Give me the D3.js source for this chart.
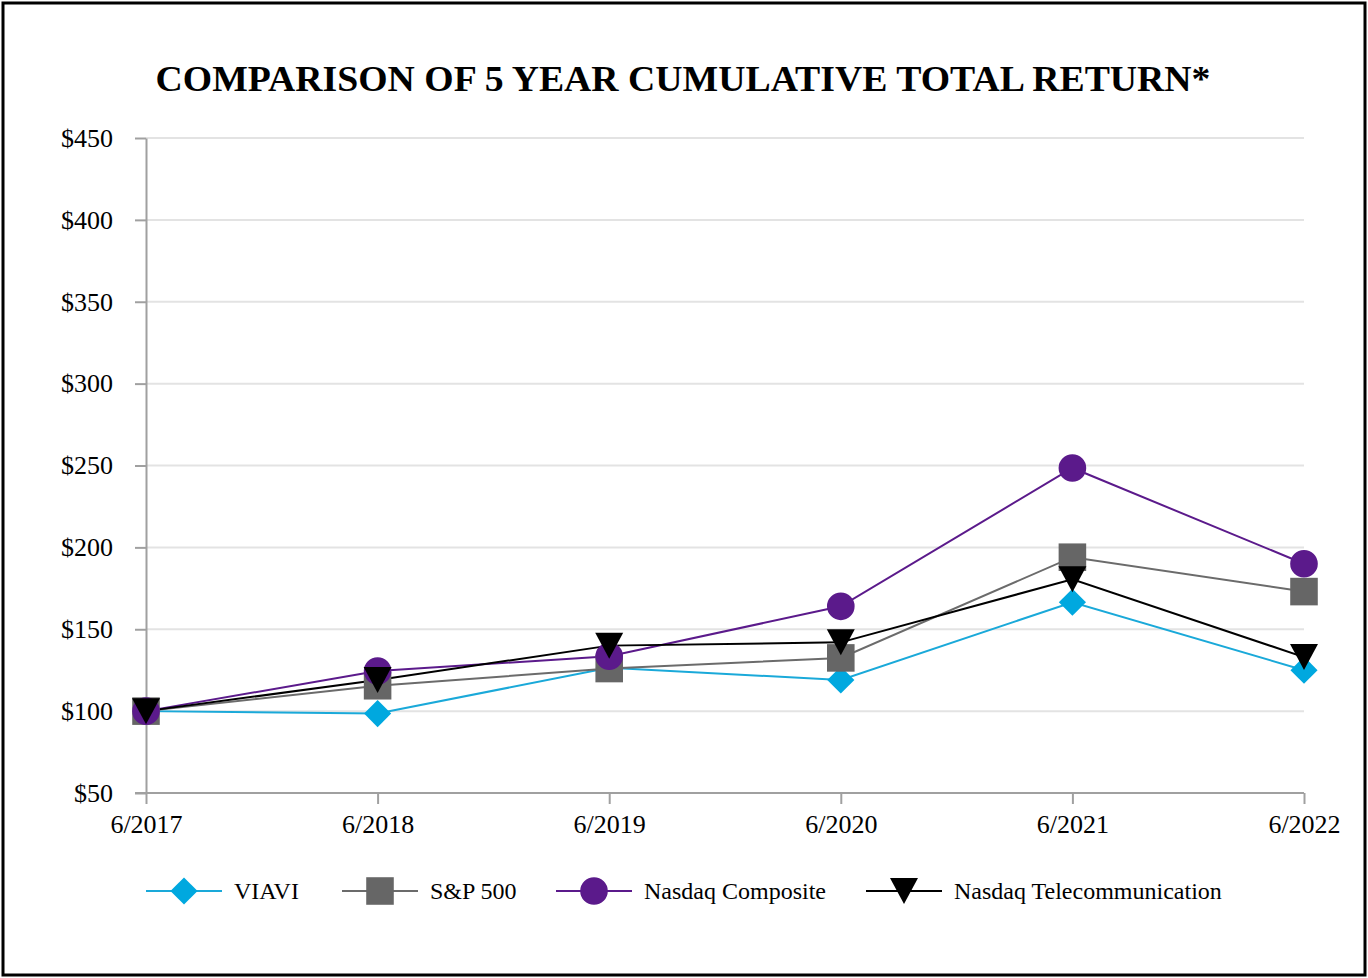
<!DOCTYPE html>
<html><head><meta charset="utf-8">
<script src="https://cdn.jsdelivr.net/npm/d3@7"></script>
<style>html,body{margin:0;padding:0;background:#fff;}svg{display:block;font-family:"Liberation Serif","Times New Roman",serif;}</style>
</head><body>
<svg id="c" width="1368" height="978"></svg>
<script>
const categories = ["6/2017","6/2018","6/2019","6/2020","6/2021","6/2022"];
const viavi = [100, 98.5, 126.5, 119, 166.5, 125];
const sp500 = [100, 115.5, 126, 132.5, 194, 173];
const nasdaqComposite = [100, 124.5, 133.5, 164, 248.5, 190];
const nasdaqTelecom = [100, 119, 140, 142, 180.5, 133];
const yTicks = [50,100,150,200,250,300,350,400,450];

const series = [
  {name:"VIAVI", values:viavi, color:"#00a8df", sym:d3.symbolDiamond2, size:470, line:"#1aa9d9"},
  {name:"S&P 500", values:sp500, color:"#666666", sym:d3.symbolSquare, size:760, line:"#6b6b6b"},
  {name:"Nasdaq Composite", values:nasdaqComposite, color:"#5b1a8b", sym:d3.symbolCircle, size:600, line:"#5b1a8b"},
  {name:"Nasdaq Telecommunication", values:nasdaqTelecom, color:"#000000", sym:"tri", size:0, line:"#000000"}
];

const svg = d3.select("#c");
svg.append("rect").attr("x",3).attr("y",3).attr("width",1362).attr("height",972)
  .attr("fill","#fff").attr("stroke","#000").attr("stroke-width",3);

svg.append("text").attr("x",683).attr("y",91).attr("text-anchor","middle")
  .attr("font-size",35).attr("font-weight","bold")
  .attr("textLength",1055).attr("lengthAdjust","spacingAndGlyphs")
  .text("COMPARISON OF 5 YEAR CUMULATIVE TOTAL RETURN*");

const x = d3.scalePoint().domain(categories).range([146,1304]);
const y = d3.scaleLinear().domain([50,450]).range([793,138]);

// gridlines
svg.append("g").selectAll("line").data(yTicks.filter(t=>t>50)).join("line")
  .attr("x1",146).attr("x2",1304).attr("y1",d=>y(d)).attr("y2",d=>y(d))
  .attr("stroke","#e3e3e3").attr("stroke-width",2);

// y axis
const ya = svg.append("g").attr("transform","translate(146,0)")
  .call(d3.axisLeft(y).tickValues(yTicks).tickFormat(d=>"$"+d).tickSize(11).tickSizeOuter(0));
ya.attr("font-size",null).attr("font-family",null);
ya.select(".domain").attr("stroke","#a0a0a0").attr("stroke-width",2);
ya.selectAll(".tick line").attr("stroke","#a0a0a0").attr("stroke-width",2);
ya.selectAll(".tick text").attr("font-size",26).attr("fill","#000").attr("x",-33).attr("dy","0.32em");

// x axis
const xa = svg.append("g").attr("transform","translate(0,793)")
  .call(d3.axisBottom(x).tickSize(11).tickSizeOuter(0));
xa.attr("font-size",null).attr("font-family",null);
xa.select(".domain").attr("stroke","#a0a0a0").attr("stroke-width",2).attr("d","M135,0H1304");
xa.selectAll(".tick line").attr("stroke","#a0a0a0").attr("stroke-width",2);
xa.selectAll(".tick text").attr("font-size",26).attr("fill","#000").attr("y",40).attr("dy",0);

function marker(g, s, cx, cy){
  if(s.sym==="tri"){
    g.append("path").attr("d",`M${cx-14},${cy-13}L${cx+14},${cy-13}L${cx},${cy+13}Z`).attr("fill",s.color);
  } else {
    g.append("path").attr("d",d3.symbol().type(s.sym).size(s.size)()).attr("transform",`translate(${cx},${cy})`).attr("fill",s.color);
  }
}

const line = d3.line().x((d,i)=>x(categories[i])).y(d=>y(d));
const plot = svg.append("g");
series.forEach(s=>{
  plot.append("path").attr("d",line(s.values)).attr("fill","none").attr("stroke",s.line).attr("stroke-width",2);
});
series.forEach(s=>{
  const g = plot.append("g");
  s.values.forEach((v,i)=>marker(g,s,x(categories[i]),y(v)));
});

// legend
const legX = [146, 342, 556, 866];
series.forEach((s,i)=>{
  const g = svg.append("g");
  const lx = legX[i], ly = 891;
  g.append("line").attr("x1",lx).attr("x2",lx+76).attr("y1",ly).attr("y2",ly).attr("stroke",s.line).attr("stroke-width",2);
  marker(g,s,lx+38,ly);
  g.append("text").attr("x",lx+88).attr("y",ly).attr("dy","0.32em").attr("font-size",24).text(s.name);
});
</script>
</body></html>
